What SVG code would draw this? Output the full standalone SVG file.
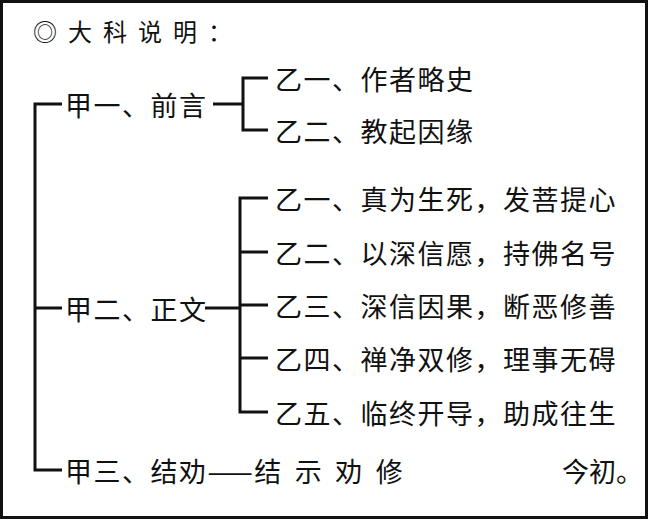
<svg xmlns="http://www.w3.org/2000/svg" width="648" height="520" viewBox="0 0 648 520">
<style>
text{font-family:"Noto Sans CJK SC","Noto Sans",sans-serif;font-size:27px;fill:#111;dominant-baseline:central;letter-spacing:1.5px}
.t{font-size:24px;letter-spacing:11px}
#c path{fill:none;stroke:#111;stroke-width:3}
</style>
<rect x="1.5" y="1.5" width="645" height="516" fill="#fff" stroke="#111" stroke-width="3"/>
<text class="t" x="33" y="30">◎大科说明：</text>
<g id="c">
<path d="M62 104H35V470H62M35 308H62"/>
<path d="M213 104H243M268 78H243V130H268"/>
<path d="M205 308H240M268 198H240V412H268M240 252H268M240 305H268M240 358H268"/>
</g>
<g id="a1"><text x="65" y="104">甲一、前言</text></g>
<g id="b1"><text x="275" y="78">乙一、作者略史</text></g>
<g id="b2"><text x="275" y="130">乙二、教起因缘</text></g>
<g id="a2"><text x="65" y="308">甲二、正文</text></g>
<g id="c1"><text x="275" y="198">乙一、真为生死，发菩提心</text></g>
<g id="c2"><text x="275" y="252">乙二、以深信愿，持佛名号</text></g>
<g id="c3"><text x="275" y="305">乙三、深信因果，断恶修善</text></g>
<g id="c4"><text x="275" y="358">乙四、禅净双修，理事无碍</text></g>
<g id="c5"><text x="275" y="412">乙五、临终开导，助成往生</text></g>
<g id="a3"><text x="65" y="470">甲三、结劝——结<tspan dx="12">示</tspan><tspan dx="12">劝</tspan><tspan dx="12">修</tspan></text></g>
<g id="n"><text x="643" y="470" text-anchor="end" style="letter-spacing:0">今初。</text></g>
</svg>
